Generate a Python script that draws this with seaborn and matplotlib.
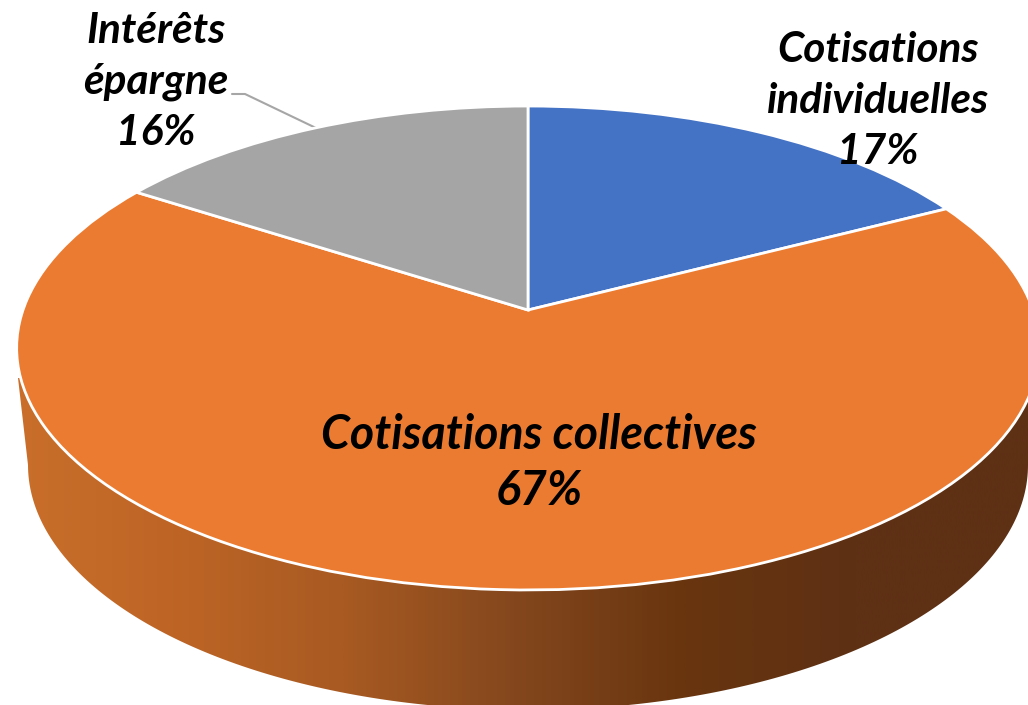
import numpy as np
import seaborn as sns
import matplotlib.pyplot as plt
from matplotlib.patches import Polygon
from matplotlib.transforms import Transform

labels = ['Cotisations\nindividuelles\n17%', 'Cotisations collectives\n67%', 'Intérêts\népargne\n16%']
shares = [17.4, 66.7, 15.9]
colors = ['#4472C4', '#EB7B30', '#A5A5A5']
side_colors = ['#CA702B', '#BE6526', '#A85A22', '#84471D', '#68350F', '#5E3014', '#5E3014']

sns.set_theme(style='white')
plt.rcParams['font.family'] = ['Lato', 'DejaVu Sans']

# pixel position of the pie on the picture
cx, cy = 528, 310
rx, ry, tilt = 505, 236, 0.157


# the pie is drawn flat on a unit circle, this tips it over (far side smaller)
class Tilted(Transform):
    input_dims = 2
    output_dims = 2

    def transform_non_affine(self, xy):
        xy = np.asarray(xy)
        d = 1 + tilt * xy[:, 1]
        return np.column_stack([cx + rx * xy[:, 0] / d, cy - ry * xy[:, 1] / d])


fig = plt.figure(figsize=(10.28, 7.05), dpi=100)
ax = fig.add_axes([0, 0, 1, 1])

wedges, _ = ax.pie(shares, colors=colors, startangle=90, counterclock=False,
                   wedgeprops={'edgecolor': 'white', 'linewidth': 2})
for w in wedges:
    w.set_transform(Tilted() + ax.transData)
    w.set_zorder(3)

# side wall, gradient clipped to the outline of the lower rim
t = np.linspace(np.pi, 0, 200)
rim = np.column_stack([528 + 500 * np.cos(t), 465 + 245 * np.sin(t)])
outline = np.vstack([[[18, 378]], rim, [[1038, 378]]])
wall = Polygon(outline, closed=True, fc='none', ec='none', transform=ax.transData)
ax.add_patch(wall)
cmap = sns.blend_palette(side_colors, as_cmap=True)
im = ax.imshow(np.linspace(0, 1, 512).reshape(1, -1), cmap=cmap, extent=(0, 1028, 705, 0),
               aspect='auto', zorder=1)
im.set_clip_path(wall)

ax.set_aspect('auto')
ax.set_xlim(0, 1028)
ax.set_ylim(705, 0)
ax.axis('off')

ax.plot([232, 245, 316], [94, 94, 128], color='#A6A6A6', lw=1.5, zorder=2)

style = dict(ha='center', va='center', color='black', fontweight='bold', fontstyle='italic', zorder=5)
ax.text(878, 101, labels[0], fontsize=30.5, linespacing=1.41, **style)
ax.text(539, 463, labels[1], fontsize=33.5, linespacing=1.33, **style)
ax.text(156, 82, labels[2], fontsize=30.5, linespacing=1.41, **style)

fig.savefig('out.png', dpi=100)
